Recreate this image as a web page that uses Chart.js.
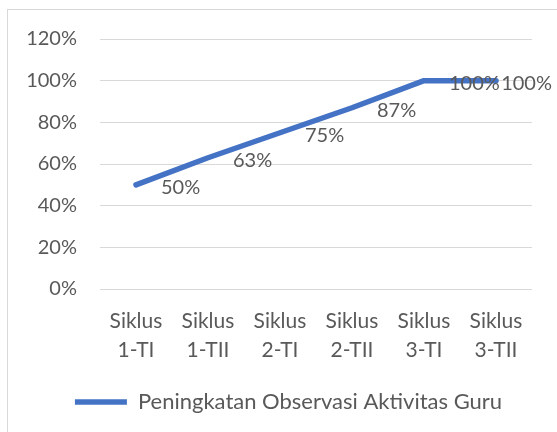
<!DOCTYPE html>
<html>
<head>
<meta charset="utf-8">
<script src="https://cdn.jsdelivr.net/npm/chart.js@4.4.0/dist/chart.umd.min.js"></script>
<style>
  html, body { margin: 0; padding: 0; background: #fff; overflow: hidden; width: 557px; height: 432px; }
  .frame { position: absolute; left: 7px; top: 9px; width: 561px; height: 440px; border: 1px solid #d9d9d9; overflow: hidden; }
  canvas { display: block; }
</style>
</head>
<body>
<div class="frame"><canvas id="grafico" width="561" height="430"></canvas></div>
<script>
// Datos del gráfico
const kategori = [
    ['Siklus', '1-TI'], ['Siklus', '1-TII'], ['Siklus', '2-TI'],
    ['Siklus', '2-TII'], ['Siklus', '3-TI'], ['Siklus', '3-TII']
];
const nilai = [50, 63, 75, 87, 100, 100];
const namaSeri = 'Peningkatan Observasi Aktivitas Guru';

const warnaTeks = '#595959';
const familia = 'Lato, "Open Sans", sans-serif';

// etiquetas de datos a la derecha de cada punto
const labelDatos = {
    id: 'labelDatos',
    afterDatasetsDraw(chart) {
        const ctx = chart.ctx;
        const area = chart.chartArea;
        const meta = chart.getDatasetMeta(0);
        ctx.save();
        ctx.font = '20px ' + familia;
        ctx.fillStyle = warnaTeks;
        ctx.textAlign = 'left';
        ctx.textBaseline = 'middle';
        meta.data.forEach((pt, i) => {
            const txt = nilai[i] + '%';
            const w = ctx.measureText(txt).width;
            const x = Math.min(pt.x + 25, area.right + 20 - w);
            ctx.fillText(txt, x, pt.y + 3);
        });
        ctx.restore();
    }
};

// la leyenda va centrada en todo el marco, no solo hasta el área del gráfico
const centrarLeyenda = {
    id: 'centrarLeyenda',
    afterLayout(chart) {
        const lg = chart.legend;
        const d = (chart.width - lg.right) / 2;
        lg.left += d;
        lg.right += d;
    }
};

const ctx = document.getElementById('grafico').getContext('2d');
new Chart(ctx, {
    type: 'line',
    data: {
        labels: kategori,
        datasets: [{
            label: namaSeri,
            data: nilai,
            borderColor: '#4472C4',
            backgroundColor: '#4472C4',
            borderWidth: 5.5,
            borderCapStyle: 'round',
            borderJoinStyle: 'round',
            pointRadius: 0,
            tension: 0
        }]
    },
    options: {
        responsive: false,
        animation: false,
        layout: { padding: { left: 0, right: 37, top: 29, bottom: 17 } },
        plugins: {
            legend: {
                position: 'bottom',
                labels: {
                    color: warnaTeks,
                    font: { family: familia, size: 22 },
                    usePointStyle: true,
                    pointStyle: 'line',
                    pointStyleWidth: 52,
                    padding: 10
                }
            },
            tooltip: { enabled: false }
        },
        scales: {
            x: {
                offset: true,
                grid: { display: false },
                border: { display: false },
                ticks: {
                    color: warnaTeks,
                    font: { family: familia, size: 21, lineHeight: '29px' },
                    padding: 10,
                    maxRotation: 0,
                    autoSkip: false
                },
                afterFit(axis) { axis.height = 92; }
            },
            y: {
                min: 0,
                max: 120,
                grid: { color: '#d9d9d9', lineWidth: 1, drawTicks: true, tickLength: 23, tickColor: 'rgba(0,0,0,0)' },
                border: { display: false },
                ticks: {
                    stepSize: 20,
                    color: warnaTeks,
                    font: { family: familia, size: 20 },
                    padding: 0,
                    callback: v => v + '%'
                },
                afterFit(axis) { axis.width = 92; }
            }
        }
    },
    plugins: [labelDatos, centrarLeyenda]
});
</script>
</body>
</html>
